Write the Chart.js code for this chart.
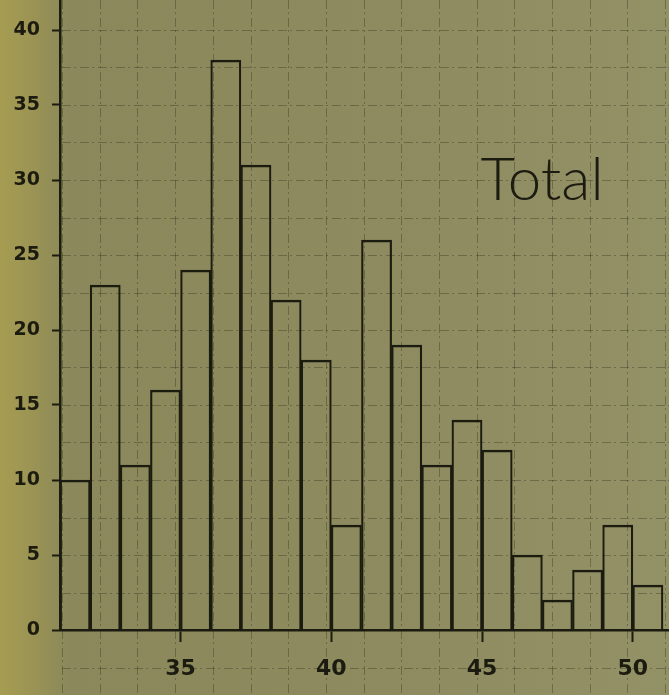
<!DOCTYPE html>
<html>
<head>
<meta charset="utf-8">
<script src="https://cdn.jsdelivr.net/npm/chart.js@4/dist/chart.umd.min.js"></script>
<style>
  html, body { margin: 0; padding: 0; background: #8d8a5c; }
  canvas { display: block; }
</style>
</head>
<body>
<canvas id="histChart" width="669" height="695"></canvas>
<script>
// Bin left edges and counts for each one-unit bin
const binStarts = [31, 32, 33, 34, 35, 36, 37, 38, 39, 40, 41, 42, 43, 44, 45, 46, 47, 48, 49, 50];
const counts = [10, 23, 11, 16, 24, 38, 31, 22, 18, 7, 26, 19, 11, 14, 12, 5, 2, 4, 7, 3];
const xTicks = [35, 40, 45, 50];
const yTicks = [0, 5, 10, 15, 20, 25, 30, 35, 40];

const ink = '#1c1b10';

// paper background and dashed graph-paper grid
const paperPlugin = {
    id: 'paper',
    beforeDraw(chart) {
        const ctx = chart.ctx;
        const x = chart.scales.x, y = chart.scales.y;
        ctx.save();
        const g = ctx.createLinearGradient(0, 0, chart.width, 0);
        g.addColorStop(0, '#a69d52');
        g.addColorStop(0.05, '#9a9354');
        g.addColorStop(0.1, '#8b895b');
        g.addColorStop(0.6, '#8d8b5f');
        g.addColorStop(1, '#939166');
        ctx.fillStyle = g;
        ctx.fillRect(0, 0, chart.width, chart.height);

        ctx.strokeStyle = 'rgba(35,34,20,0.32)';
        ctx.lineWidth = 1;
        ctx.setLineDash([9, 3, 2, 4]);
        for (let v = 31.07; v < 52; v += 1.25) {
            const px = Math.round(x.getPixelForValue(v)) + 0.5;
            ctx.beginPath();
            ctx.moveTo(px, 0);
            ctx.lineTo(px, chart.height);
            ctx.stroke();
        }
        for (let v = -5; v <= 42; v += 2.5) {
            const py = Math.round(y.getPixelForValue(v)) + 0.5;
            ctx.beginPath();
            ctx.moveTo(x.left + 2, py);
            ctx.lineTo(chart.width, py);
            ctx.stroke();
        }
        ctx.restore();
    },
    afterDraw(chart) {
        const ctx = chart.ctx;
        const x = chart.scales.x, y = chart.scales.y;
        ctx.save();
        ctx.fillStyle = ink;
        ctx.font = '300 60px Lato, "DejaVu Sans", sans-serif';
        ctx.textBaseline = 'alphabetic';
        ctx.fillText('Total', x.getPixelForValue(44.95), y.getPixelForValue(28.67));
        ctx.restore();
    }
};

const ctx = document.getElementById('histChart').getContext('2d');
const histChart = new Chart(ctx, {
    type: 'bar',
    data: {
        datasets: [{
            label: 'Total',
            data: binStarts.map((b, i) => ({ x: b + 0.5, y: counts[i] })),
            backgroundColor: 'rgba(0,0,0,0)',
            borderColor: ink,
            borderWidth: { top: 2, left: 1.5, right: 1.5, bottom: 0 },
            borderSkipped: 'bottom',
            barPercentage: 1,
            categoryPercentage: 1
        }]
    },
    options: {
        responsive: false,
        animation: false,
        layout: { padding: 0 },
        plugins: {
            legend: { display: false },
            tooltip: { enabled: false }
        },
        scales: {
            x: {
                type: 'linear',
                min: 31,
                max: 51.2,
                offset: false,
                afterBuildTicks: (s) => { s.ticks = xTicks.map(v => ({ value: v })); },
                afterFit: (s) => { s.height = 65; s.paddingLeft = 0; s.paddingRight = 0; },
                grid: { offset: false, drawOnChartArea: false, tickLength: 12, tickColor: ink, tickWidth: 2 },
                border: { color: ink, width: 2.5 },
                ticks: {
                    color: ink,
                    padding: 14,
                    maxRotation: 0,
                    font: { family: '"DejaVu Sans", sans-serif', size: 22, weight: 'bold' }
                }
            },
            y: {
                min: 0,
                max: 42,
                afterBuildTicks: (s) => { s.ticks = yTicks.map(v => ({ value: v })); },
                afterFit: (s) => { s.width = 60; s.paddingTop = 0; s.paddingBottom = 0; },
                grid: { drawOnChartArea: false, tickLength: 8, tickColor: ink, tickWidth: 2 },
                border: { color: ink, width: 2.5 },
                ticks: {
                    color: ink,
                    padding: 12,
                    font: { family: '"DejaVu Sans", sans-serif', size: 19, weight: 'bold' }
                }
            }
        }
    },
    plugins: [paperPlugin]
});
</script>
</body>
</html>
